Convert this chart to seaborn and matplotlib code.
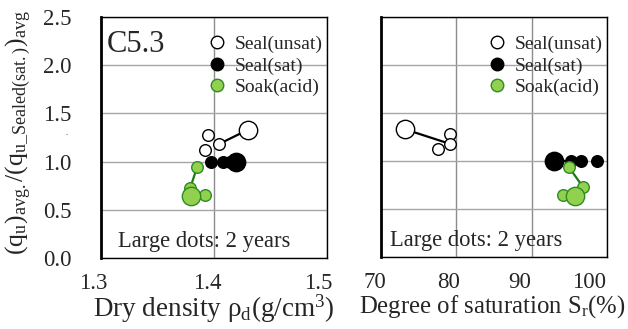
import matplotlib
matplotlib.use("Agg")
import matplotlib.pyplot as plt
import matplotlib.transforms as mtransforms
import seaborn as sns
import pandas as pd
from matplotlib.lines import Line2D

# ---- data ----
rho_unsat = [1.395, 1.404, 1.392]
sr_unsat = [79.2, 79.1, 77.5]
q_unsat = [1.28, 1.18, 1.12]
rho_unsat_2y = [1.430]
sr_unsat_2y = [73.2]
q_unsat_2y = [1.33]

rho_sat = [1.397, 1.408, 1.414]
sr_sat = [95.2, 96.6, 98.7]
q_sat = [1.00, 1.00, 1.00]
rho_sat_2y = [1.419]
sr_sat_2y = [93.0]
q_sat_2y = [1.00]

rho_soak = [1.385, 1.379, 1.392]
sr_soak = [94.9, 96.8, 94.1]
q_soak = [0.94, 0.73, 0.65]
rho_soak_2y = [1.380]
sr_soak_2y = [95.7]
q_soak_2y = [0.64]

series_labels = ["Seal(unsat)", "Seal(sat)", "Soak(acid)"]
x_ticks_left = [1.3, 1.4, 1.5]
x_ticks_right = [70, 80, 90, 100]
y_ticks = [0.0, 0.5, 1.0, 1.5, 2.0, 2.5]

sns.set_theme(style="white")
plt.rcParams["font.family"] = ["Liberation Serif", "DejaVu Serif"]
plt.rcParams["mathtext.fontset"] = "custom"
plt.rcParams["mathtext.rm"] = "Liberation Serif"
plt.rcParams["mathtext.it"] = "Liberation Serif:italic"
plt.rcParams["mathtext.bf"] = "Liberation Serif:bold"

fig = plt.figure(figsize=(6.28, 3.29), dpi=100)
axL = fig.add_axes([0.1608, 0.2158, 0.360, 0.7325])
axR = fig.add_axes([0.6067, 0.2188, 0.360, 0.7295])

styles = {
    "unsat": dict(fc="white", ec="black", lc="black"),
    "sat": dict(fc="black", ec="black", lc="black"),
    "soak": dict(fc="#92D050", ec="#2E8B22", lc="#1E7A12"),
}

S_SMALL = 70
S_LARGE = 175


def draw(ax, xs, xs2, ys, ys2, key, link):
    st = styles[key]
    seg = pd.DataFrame({"x": [xs[link[0]] if link[0] >= 0 else xs2[0], xs[link[1]]],
                        "y": [ys[link[0]] if link[0] >= 0 else ys2[0], ys[link[1]]]})
    sns.lineplot(data=seg, x="x", y="y", ax=ax, color=st["lc"], lw=1.6,
                 sort=False, estimator=None, zorder=3, legend=False)
    df = pd.DataFrame({"x": xs, "y": ys})
    sns.scatterplot(data=df, x="x", y="y", ax=ax, s=S_SMALL, color=st["fc"],
                    edgecolor=st["ec"], linewidth=1.0, zorder=4, legend=False)
    df2 = pd.DataFrame({"x": xs2, "y": ys2})
    sns.scatterplot(data=df2, x="x", y="y", ax=ax, s=S_LARGE, color=st["fc"],
                    edgecolor=st["ec"], linewidth=1.0, zorder=4, legend=False)


draw(axL, rho_unsat, rho_unsat_2y, q_unsat, q_unsat_2y, "unsat", (-1, 1))
draw(axL, rho_sat, rho_sat_2y, q_sat, q_sat_2y, "sat", (-1, 2))
draw(axL, rho_soak, rho_soak_2y, q_soak, q_soak_2y, "soak", (0, 1))

draw(axR, sr_unsat, sr_unsat_2y, q_unsat, q_unsat_2y, "unsat", (-1, 1))
draw(axR, sr_sat, sr_sat_2y, q_sat, q_sat_2y, "sat", (-1, 0))
draw(axR, sr_soak, sr_soak_2y, q_soak, q_soak_2y, "soak", (0, 1))

for ax, xt in ((axL, x_ticks_left), (axR, x_ticks_right)):
    ax.set_xlim(xt[0], xt[-1])
    ax.set_xticks(xt)
    ax.set_ylim(0, 2.5)
    ax.set_yticks(y_ticks)
    ax.set_xlabel("")
    ax.set_ylabel("")
    ax.grid(True, axis="y", color="#a6a6a6", lw=1.0)
    ax.grid(True, axis="x", color="#8c8c8c", lw=1.0)
    ax.set_axisbelow(True)
    for side in ("top", "right", "bottom"):
        ax.spines[side].set_color("black")
        ax.spines[side].set_linewidth(1.0)
    ax.spines["left"].set_color("black")
    ax.spines["left"].set_linewidth(2.0)
    ax.tick_params(axis="y", direction="in", length=5, width=1.0, color="#404040",
                   labelsize=16.5, pad=21)
    ax.tick_params(axis="x", length=0, labelsize=16.5, pad=11)
    handles = [Line2D([], [], ls="none", marker="o", markersize=9,
                      markerfacecolor=styles[k]["fc"], markeredgecolor=styles[k]["ec"],
                      markeredgewidth=1.0) for k in ("unsat", "sat", "soak")]
    ax.legend(handles, series_labels, loc="upper right", bbox_to_anchor=(1.0, 0.94),
              frameon=False, fontsize=14, handletextpad=0.45, labelspacing=0.2,
              borderaxespad=0.0, borderpad=0.2, handlelength=1.0)

axR.set_yticklabels([])

# shift x tick labels slightly left like the original
offsL = [-8, -7, -9]
offsR = [-6, -8, -12, -18]
for ax, offs in ((axL, offsL), (axR, offsR)):
    for lab, dx in zip(ax.get_xticklabels(), offs):
        lab.set_transform(lab.get_transform() +
                          mtransforms.ScaledTranslation(dx / 100, 0, fig.dpi_scale_trans))

axL.set_xlabel(r"Dry density $\mathrm{\rho_d}$(g/cm$^3$)", fontsize=19.5)
axR.set_xlabel(r"Degree of saturation S$_\mathrm{r}$(%)", fontsize=17.8)
axL.xaxis.set_label_coords(0.5, -0.145)
axR.xaxis.set_label_coords(0.49, -0.15)
axL.set_ylabel(r"$(\mathrm{q_u})_{\mathrm{avg.}}/(\mathrm{q_{u\_Sealed(sat.)}})_{\mathrm{avg}}$",
               fontsize=18.5)
axL.yaxis.set_label_coords(-0.3, 0.52)

axL.text(0.027, 0.884, "C5.3", transform=axL.transAxes, fontsize=22, va="center", ha="left")
axL.text(0.075, 0.07, "Large dots: 2 years", transform=axL.transAxes, fontsize=16.3,
         va="center", ha="left")
axR.text(0.04, 0.07, "Large dots: 2 years", transform=axR.transAxes, fontsize=16.3,
         va="center", ha="left")
fig.text(67 / 628, 1 - 133 / 329, ".", fontsize=6, ha="center", va="center")

fig.savefig("out.png", dpi=100)
